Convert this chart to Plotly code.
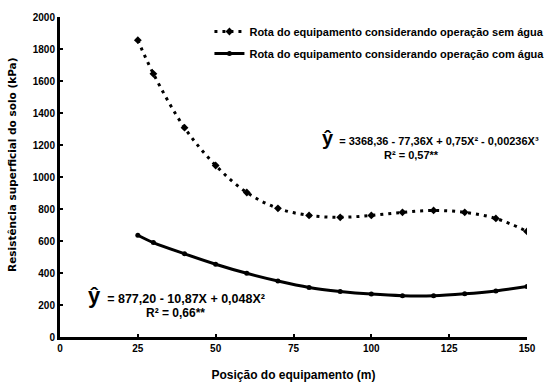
import plotly.graph_objects as go

# Data
posicao = [25, 30, 40, 50, 60, 70, 80, 90, 100, 110, 120, 130, 140, 150]
sem_agua = [1855, 1645, 1308, 1072, 903, 804, 760, 748, 760, 779, 791, 779, 741, 660]
com_agua = [636, 590, 520, 455, 398, 350, 310, 285, 268, 258, 258, 270, 288, 315]

x_ticks = [0, 25, 50, 75, 100, 125, 150]
y_ticks = [0, 200, 400, 600, 800, 1000, 1200, 1400, 1600, 1800, 2000]

name_sem = "Rota do equipamento considerando operação sem água"
name_com = "Rota do equipamento considerando operação com água"
y_title = "Resistência superficial do solo (kPa)"
x_title = "Posição do equipamento (m)"

eq_sem = "<span style='font-size:20px'>ŷ</span>  = 3368,36 - 77,36X + 0,75X² - 0,00236X³"
r2_sem = "R² = 0,57**"
eq_com = "<span style='font-size:22px'>ŷ</span>  = 877,20 - 10,87X + 0,048X²"
r2_com = "R² = 0,66**"

FONT = "Liberation Sans"

fig = go.Figure()
fig.add_trace(go.Scatter(
    x=posicao, y=sem_agua, name=name_sem, mode="lines+markers", legendgroup="a",
    line=dict(color="black", width=3, dash="3px,5px", shape="spline", smoothing=1.0),
    marker=dict(symbol="diamond", size=6, color="black"),
))
fig.add_trace(go.Scatter(
    x=posicao, y=com_agua, name=name_com, mode="lines+markers", legendgroup="b",
    line=dict(color="black", width=3, shape="spline", smoothing=1.0),
    marker=dict(symbol="circle", size=5, color="black"),
))

annots = [
    dict(x=83.5, y=1244, text=eq_sem, xanchor="left", size=11),
    dict(x=113, y=1140, text=r2_sem, xanchor="center", size=11),
    dict(x=8.4, y=262, text=eq_com, xanchor="left", size=12.5),
    dict(x=37, y=150, text=r2_com, xanchor="center", size=12),
]
for a in annots:
    fig.add_annotation(x=a["x"], y=a["y"], text=a["text"], xanchor=a["xanchor"],
                       yanchor="middle", showarrow=False, xref="x", yref="y",
                       font=dict(family=FONT, size=a["size"], color="black", weight="bold"))

# y-axis title placed as rotated annotation
fig.add_annotation(x=-0.103, y=0.5375, xref="paper", yref="paper", text=y_title,
                   textangle=-90, showarrow=False, xanchor="center", yanchor="middle",
                   font=dict(family="DejaVu Sans", size=10.5, color="black", weight="bold"))

fig.update_layout(
    width=546, height=382,
    margin=dict(l=60, r=19, t=17, b=45, autoexpand=False),
    paper_bgcolor="white", plot_bgcolor="white",
    font=dict(family=FONT, size=10, color="black", weight="bold"),
    showlegend=True,
    legend=dict(x=0.32, y=1.0, xanchor="left", yanchor="top", traceorder="grouped",
                bgcolor="rgba(0,0,0,0)", font=dict(size=11, weight="bold"),
                tracegroupgap=3, itemwidth=30),
    xaxis=dict(range=[0, 150], tickvals=x_ticks, showgrid=False, zeroline=False,
               showline=True, linecolor="black", linewidth=3, automargin=False,
               ticks="inside", ticklen=3, tickwidth=2, tickcolor="black",
               title=dict(text=x_title, standoff=20,
                          font=dict(size=12, weight="bold")),
               tickfont=dict(size=10, weight="bold")),
    yaxis=dict(range=[0, 2000], tickvals=y_ticks, showgrid=False, zeroline=False,
               showline=True, linecolor="black", linewidth=3, automargin=False,
               ticks="inside", ticklen=3, tickwidth=2, tickcolor="black",
               tickfont=dict(size=10, weight="bold")),
)

fig.write_html("out.html", config={"displayModeBar": False},
               post_script="document.body.style.margin='0';document.body.style.overflow='hidden';")
